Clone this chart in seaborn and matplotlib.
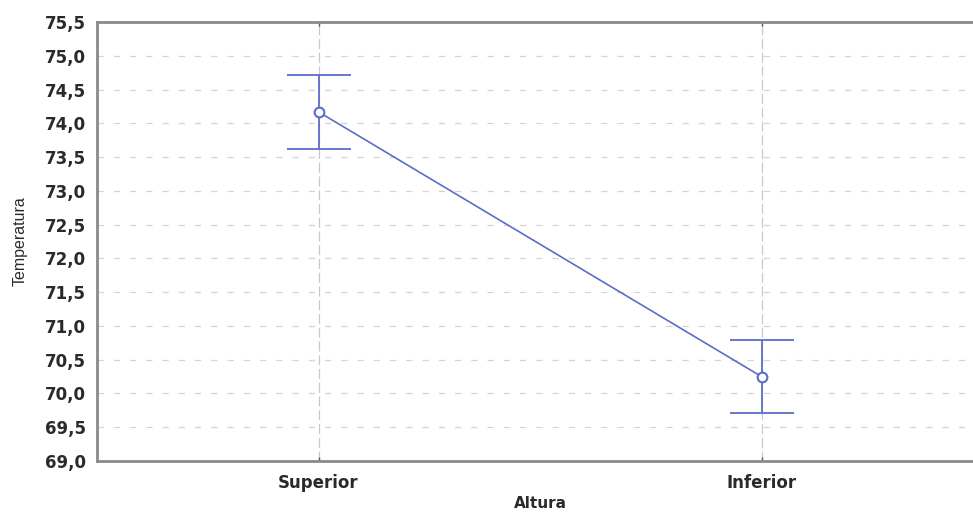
import matplotlib
matplotlib.use("Agg")
import matplotlib.pyplot as plt
from matplotlib.ticker import FuncFormatter, MultipleLocator
import seaborn as sns
import pandas as pd

# Mean temperature by height with confidence half-widths
alturas = ["Superior", "Inferior"]
medias = [74.17, 70.25]
erros = [0.55, 0.54]

df = pd.DataFrame({"Altura": alturas, "Temperatura": medias})

sns.set_theme(style="white")
plt.rcParams["font.family"] = ["DejaVu Sans"]

fig = plt.figure(figsize=(9.73, 5.14), dpi=100)
ax = fig.add_axes([0.0997, 0.1031, 0.9106, 0.854])

line_color = "#5b6dc8"

sns.pointplot(data=df, x="Altura", y="Temperatura", errorbar=None,
              color=line_color, markers="o", markersize=7,
              linewidth=1.2, ax=ax)
for ln in ax.lines:
    ln.set_markerfacecolor("white")
    ln.set_markeredgecolor(line_color)
    ln.set_markeredgewidth(1.5)
    ln.set_zorder(4)

ax.errorbar(x=range(len(alturas)), y=medias, yerr=erros, fmt="none",
            ecolor=line_color, elinewidth=1.3, capsize=23, capthick=1.3,
            zorder=3)

ax.set_xlim(-0.5, 1.5)
ax.set_ylim(69.0, 75.5)
ax.yaxis.set_major_locator(MultipleLocator(0.5))
ax.yaxis.set_major_formatter(FuncFormatter(lambda v, p: f"{v:.1f}".replace(".", ",")))

ax.grid(True, axis="y", color="#d4d4d4", linestyle=(0, (5, 8)), linewidth=0.9)
ax.grid(True, axis="x", color="#c8c8c8", linestyle=(0, (8, 3)), linewidth=0.9)
ax.set_axisbelow(True)

for side in ["left", "bottom", "top"]:
    ax.spines[side].set_visible(True)
    ax.spines[side].set_color("#8a8a8a")
    ax.spines[side].set_linewidth(2)
ax.spines["right"].set_visible(False)

ax.tick_params(axis="both", direction="in", length=3, width=1,
               color="#555555", labelsize=12, labelcolor="#2a2a2a", pad=8)
ax.tick_params(axis="x", top=True, bottom=True, pad=9)
for lab in ax.get_xticklabels() + ax.get_yticklabels():
    lab.set_fontweight("bold")

ax.set_xlabel("Altura", fontsize=11, fontweight="bold", color="#2a2a2a", labelpad=3)
ax.set_ylabel("Temperatura", fontsize=11.5, color="#2a2a2a", labelpad=12,
              family=["Liberation Sans", "DejaVu Sans"])

fig.savefig("out.png", dpi=100)
